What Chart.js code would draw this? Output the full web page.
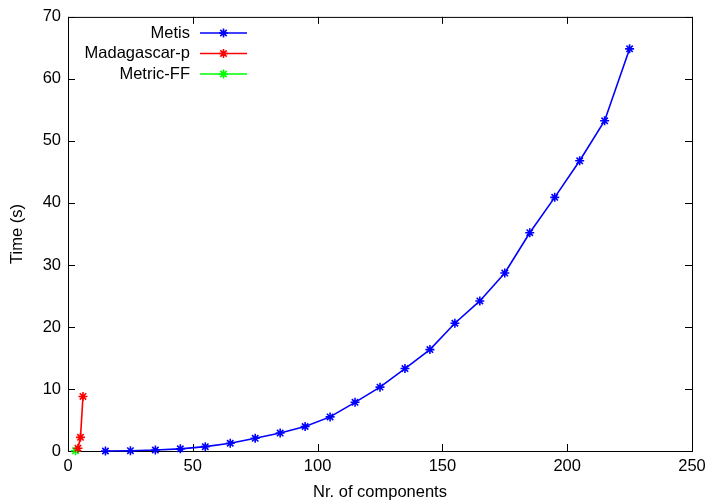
<!DOCTYPE html>
<html>
<head>
<meta charset="utf-8">
<script src="https://cdn.jsdelivr.net/npm/chart.js@4/dist/chart.umd.min.js"></script>
<style>
  html, body { margin: 0; padding: 0; background: #fff; }
  #wrap { width: 712px; height: 502px; }
</style>
</head>
<body>
<div id="wrap"><canvas id="chart" width="712" height="502"></canvas></div>
<script>
// Series data
const metisX = [15, 25, 35, 45, 55, 65, 75, 85, 95, 105, 115, 125, 135, 145, 155, 165, 175, 185, 195, 205, 215, 225];
const metisY = [0.0, 0.05, 0.15, 0.35, 0.7, 1.25, 2.05, 2.9, 3.95, 5.5, 7.85, 10.3, 13.3, 16.35, 20.6, 24.2, 28.7, 35.2, 40.9, 46.8, 53.25, 64.85];

const madX = [4, 5, 6];
const madY = [0.45, 2.2, 8.8];

const ffX = [3];
const ffY = [0.05];

const xTicks = [0, 50, 100, 150, 200, 250];
const yTicks = [0, 10, 20, 30, 40, 50, 60, 70];

const seriesNames = ['Metis', 'Madagascar-p', 'Metric-FF'];
const seriesColors = ['#0000ff', '#ff0000', '#00ff00'];

const FONT = '"Liberation Sans", Arial, Helvetica, sans-serif';

function toPoints(xs, ys) {
  return xs.map((x, i) => ({ x: x, y: ys[i] }));
}

// frame around the plot, with ticks pointing inward on all four sides
const framePlugin = {
  id: 'frame',
  beforeDatasetsDraw(chart) {
    const { ctx, chartArea: a, scales } = chart;
    const len = 7;
    ctx.save();
    ctx.strokeStyle = '#000';
    ctx.lineWidth = 1;
    ctx.strokeRect(a.left + 0.5, a.top + 0.5, a.right - a.left, a.bottom - a.top);
    ctx.beginPath();
    xTicks.forEach(v => {
      const px = Math.round(scales.x.getPixelForValue(v)) + 0.5;
      ctx.moveTo(px, a.bottom); ctx.lineTo(px, a.bottom - len);
      ctx.moveTo(px, a.top); ctx.lineTo(px, a.top + len);
    });
    yTicks.forEach(v => {
      const py = Math.round(scales.y.getPixelForValue(v)) + 0.5;
      ctx.moveTo(a.left, py); ctx.lineTo(a.left + len, py);
      ctx.moveTo(a.right, py); ctx.lineTo(a.right - len, py);
    });
    ctx.stroke();
    ctx.restore();
  }
};

// gnuplot style key in the top-left corner
const keyPlugin = {
  id: 'key',
  afterDatasetsDraw(chart) {
    const { ctx } = chart;
    const textRight = 190;
    const lineFrom = 200, lineTo = 247;
    const rowY = [33, 53.5, 74];
    ctx.save();
    ctx.font = '16.5px ' + FONT;
    ctx.textAlign = 'right';
    ctx.textBaseline = 'middle';
    seriesNames.forEach((name, i) => {
      const y = rowY[i];
      ctx.fillStyle = '#000';
      ctx.fillText(name, textRight, y);
      ctx.strokeStyle = seriesColors[i];
      ctx.lineWidth = 1.6;
      ctx.beginPath();
      ctx.moveTo(lineFrom, y); ctx.lineTo(lineTo, y);
      ctx.stroke();
      ctx.lineWidth = 1.6;
      Chart.helpers.drawPoint(ctx, { pointStyle: 'star', radius: 4.5, borderWidth: 1.6 }, (lineFrom + lineTo) / 2, y);
    });
    ctx.restore();
  }
};

function makeSet(label, pts, color) {
  return {
    label: label,
    data: pts,
    borderColor: color,
    backgroundColor: color,
    borderWidth: 1.6,
    pointStyle: 'star',
    pointRadius: 4.5,
    pointBorderWidth: 1.6,
    pointHoverRadius: 4.5,
    tension: 0,
    fill: false
  };
}

Chart.defaults.font.family = FONT;
Chart.defaults.color = '#000';

new Chart(document.getElementById('chart').getContext('2d'), {
  type: 'line',
  data: {
    datasets: [
      makeSet(seriesNames[0], toPoints(metisX, metisY), seriesColors[0]),
      makeSet(seriesNames[1], toPoints(madX, madY), seriesColors[1]),
      makeSet(seriesNames[2], toPoints(ffX, ffY), seriesColors[2])
    ]
  },
  options: {
    responsive: false,
    animation: false,
    clip: false,
    layout: { padding: { top: 15, right: 20, left: 0, bottom: 0 } },
    plugins: {
      legend: { display: false },
      tooltip: { enabled: false }
    },
    scales: {
      x: {
        type: 'linear',
        min: 0,
        max: 250,
        afterBuildTicks: s => { s.ticks = xTicks.map(v => ({ value: v })); },
        afterFit: s => { s.height = 51; },
        grid: { display: false, drawTicks: false },
        border: { display: false },
        ticks: { font: { size: 16.5 }, padding: 6, maxRotation: 0 },
        title: {
          display: true,
          text: 'Nr. of components',
          font: { size: 16.5, lineHeight: 1.2 },
          padding: { top: 0, bottom: 0 }
        }
      },
      y: {
        type: 'linear',
        min: 0,
        max: 70,
        afterBuildTicks: s => { s.ticks = yTicks.map(v => ({ value: v })); },
        afterFit: s => { s.width = 68; },
        grid: { display: false, drawTicks: false },
        border: { display: false },
        ticks: { font: { size: 16.5 }, padding: 7 },
        title: {
          display: true,
          text: 'Time (s)',
          font: { size: 16.5, lineHeight: 1.2 },
          padding: { top: 8, bottom: 0 }
        }
      }
    }
  },
  plugins: [framePlugin, keyPlugin]
});
</script>
</body>
</html>
